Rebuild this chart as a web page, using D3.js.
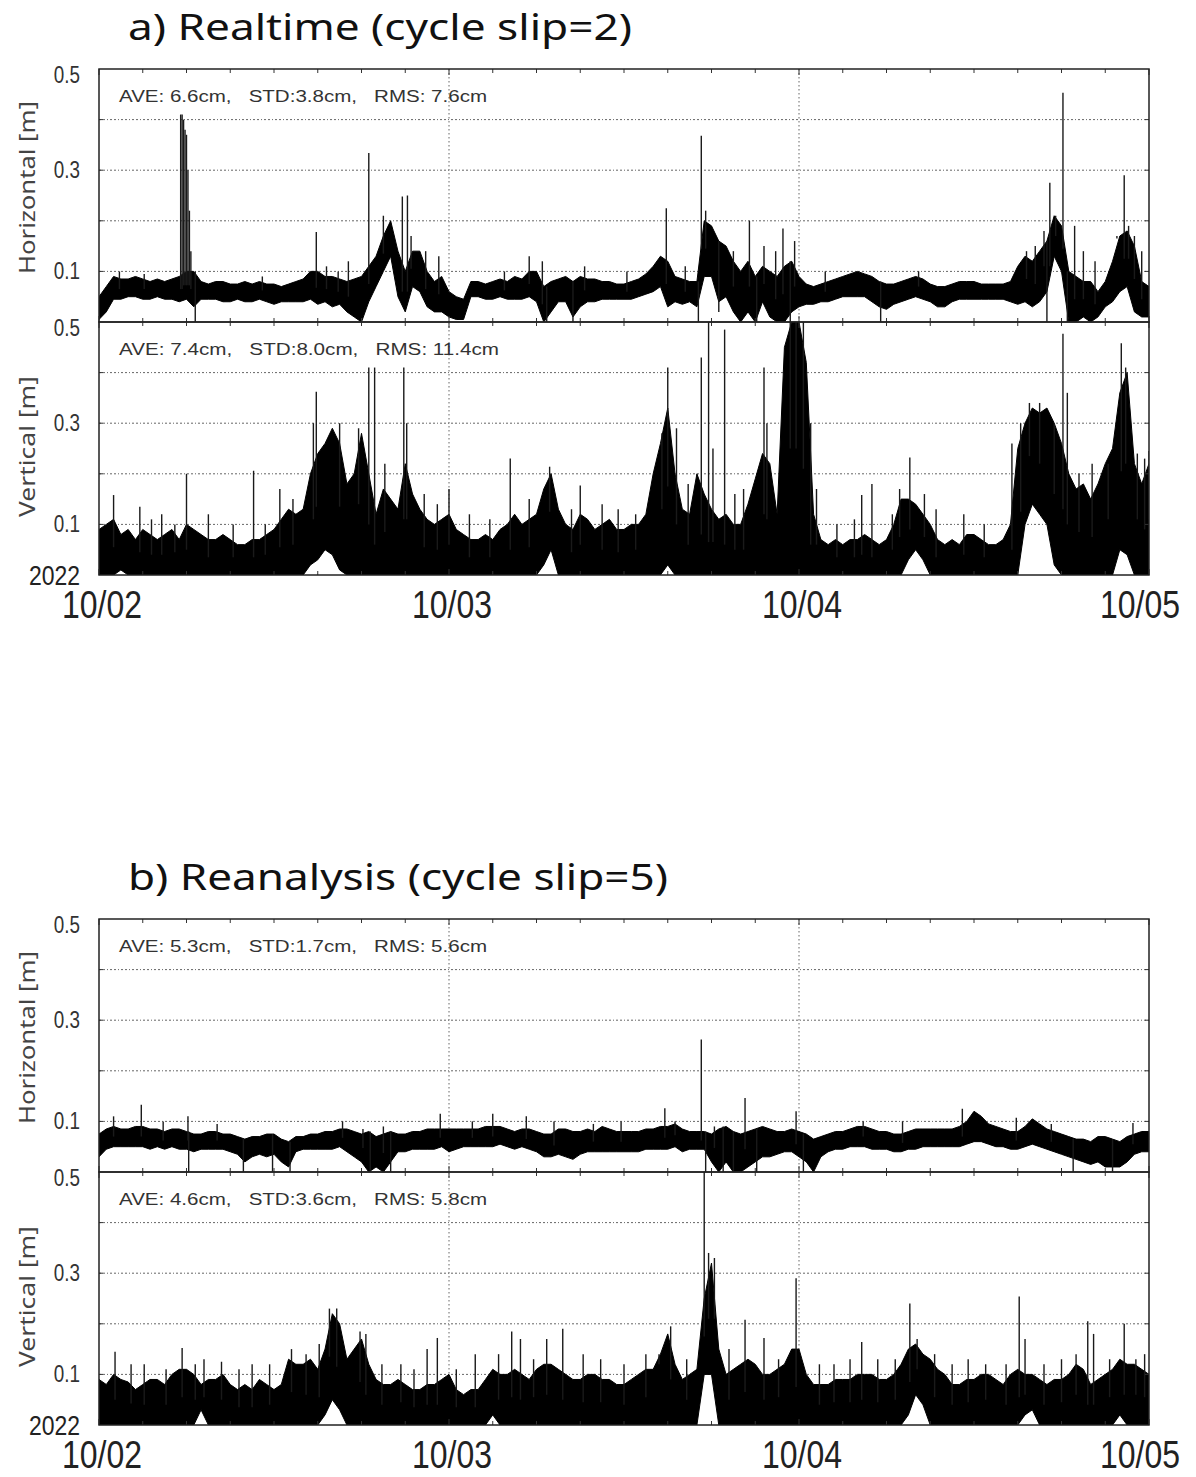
<!DOCTYPE html>
<html>
<head>
<meta charset="utf-8">
<script src="https://cdn.jsdelivr.net/npm/d3@7"></script>
<style>
  body { margin: 0; background: #fff; }
  svg { display: block; }
</style>
</head>
<body>
<div id="chart"></div>
<script>
// values, in metres, one upper / lower envelope value every 30 min from 10/02 00:00
const titles = ["a) Realtime (cycle slip=2)", "b) Reanalysis (cycle slip=5)"];
const dayLabels = ["10/02", "10/03", "10/04", "10/05"];
const yTickLabels = ["0.1", "0.3", "0.5"];
const stats = [
  "AVE: 6.6cm,   STD:3.8cm,   RMS: 7.6cm",
  "AVE: 7.4cm,   STD:8.0cm,   RMS: 11.4cm",
  "AVE: 5.3cm,   STD:1.7cm,   RMS: 5.6cm",
  "AVE: 4.6cm,   STD:3.6cm,   RMS: 5.8cm"
];

// a) realtime, horizontal
const aHorHi = [0.05,0.07,0.09,0.085,0.085,0.09,0.085,0.08,0.085,0.08,0.085,0.09,0.1,0.1,0.08,0.075,0.08,0.08,0.075,0.075,
  0.08,0.075,0.08,0.075,0.075,0.07,0.075,0.08,0.085,0.1,0.1,0.09,0.09,0.085,0.08,0.085,0.09,0.11,0.13,0.17,
  0.2,0.14,0.1,0.14,0.14,0.1,0.08,0.09,0.06,0.05,0.045,0.08,0.08,0.075,0.08,0.085,0.08,0.09,0.085,0.1,
  0.1,0.07,0.08,0.085,0.09,0.08,0.09,0.085,0.085,0.08,0.08,0.075,0.075,0.08,0.085,0.095,0.11,0.13,0.12,0.09,
  0.085,0.08,0.08,0.2,0.19,0.16,0.15,0.12,0.1,0.12,0.09,0.11,0.1,0.09,0.11,0.12,0.09,0.075,0.07,0.075,
  0.08,0.085,0.09,0.095,0.1,0.095,0.09,0.08,0.075,0.075,0.08,0.085,0.09,0.085,0.075,0.07,0.07,0.075,0.08,0.08,
  0.08,0.075,0.075,0.075,0.075,0.08,0.11,0.13,0.12,0.14,0.16,0.21,0.19,0.1,0.09,0.08,0.08,0.06,0.08,0.12,
  0.17,0.18,0.15,0.08,0.07];
const aHorLo = [0.005,0.02,0.045,0.045,0.05,0.05,0.045,0.045,0.05,0.045,0.045,0.04,0.045,0.03,0.045,0.045,0.045,0.04,0.04,0.045,
  0.04,0.04,0.045,0.04,0.035,0.04,0.04,0.04,0.04,0.045,0.035,0.04,0.03,0.035,0.02,0.01,0,0.04,0.07,0.1,
  0.13,0.05,0.02,0.07,0.06,0.03,0.02,0.02,0.01,0.005,0.005,0.05,0.05,0.045,0.045,0.05,0.045,0.045,0.045,0.05,
  0.04,0,0.02,0.04,0.04,0.01,0.03,0.04,0.04,0.045,0.045,0.045,0.045,0.045,0.05,0.055,0.06,0.07,0.03,0.04,
  0.035,0.04,0.03,0.09,0.09,0.04,0.05,0.02,0,0.02,0,0.04,0.01,0,0,0.02,0.03,0.035,0.035,0.04,
  0.04,0.045,0.05,0.05,0.05,0.05,0.04,0.03,0.025,0.035,0.04,0.045,0.05,0.045,0.04,0.03,0.03,0.04,0.045,0.045,
  0.045,0.045,0.045,0.045,0.045,0.04,0.035,0.04,0.03,0.04,0.06,0.13,0.1,0,0,0.01,0,0.01,0.03,0.04,
  0.06,0.07,0.02,0.01,0.01];
const aHorSpikes = [[5.6,0.41],[5.7,0.41],[5.8,0.40],[5.9,0.38],[6.0,0.37],[6.1,0.3],[6.2,0.22],[6.3,0.14],[6.6,0],
  [1.4,0.1],[3.1,0.095],[11.2,0.09],[14.9,0.178],[15.6,0.11],[16.4,0.1],[17.1,0.12],[18.5,0.334],[19.5,0.21],
  [20.8,0.248],[21.15,0.25],[21.4,0.17],[22.4,0.14],[23.3,0.13],[27.8,0.1],[29.5,0.13],[30.4,0.12],[30.7,0],
  [32.5,0],[33.3,0.11],[36.2,0.1],[38.9,0.225],[40.2,0.11],[41.1,0],[41.3,0.368],[41.6,0.22],[42.5,0.02],
  [43.5,0.14],[44.6,0.2],[45.1,0],[45.6,0.15],[46.4,0.14],[46.9,0.185],[47.4,0],[47.7,0.16],[49.8,0.1],
  [53.6,0],[56.2,0.1],[63.6,0.14],[64.2,0.15],[64.8,0.18],[65.0,0],[65.2,0.275],[65.6,0.21],[66.1,0.453],
  [66.4,0],[66.9,0.19],[67.5,0.14],[68.3,0.12],[69.8,0.165],[70.3,0.29],[70.6,0.19],[71.0,0.17],[71.5,0.14]];

// a) realtime, vertical
const aVerHi = [0.09,0.1,0.11,0.08,0.09,0.07,0.09,0.08,0.07,0.08,0.09,0.07,0.1,0.09,0.08,0.07,0.07,0.08,0.07,0.06,
  0.06,0.07,0.07,0.08,0.09,0.11,0.13,0.12,0.13,0.2,0.24,0.26,0.29,0.26,0.18,0.2,0.28,0.2,0.12,0.17,
  0.15,0.13,0.22,0.16,0.13,0.11,0.1,0.11,0.12,0.09,0.08,0.07,0.07,0.08,0.07,0.09,0.1,0.12,0.1,0.11,
  0.12,0.17,0.2,0.13,0.1,0.09,0.12,0.11,0.09,0.1,0.11,0.09,0.09,0.1,0.1,0.12,0.2,0.26,0.33,0.2,
  0.13,0.12,0.2,0.16,0.13,0.11,0.12,0.1,0.1,0.14,0.19,0.24,0.22,0.12,0.45,0.5,0.5,0.42,0.12,0.07,
  0.06,0.07,0.06,0.07,0.07,0.08,0.07,0.06,0.07,0.1,0.15,0.15,0.14,0.12,0.1,0.07,0.06,0.07,0.06,0.08,
  0.08,0.07,0.06,0.06,0.07,0.1,0.25,0.3,0.33,0.32,0.33,0.3,0.26,0.2,0.17,0.18,0.15,0.18,0.22,0.25,
  0.36,0.4,0.22,0.18,0.22];
const aVerLo = [0,0,0,0.01,0,0,0,0,0,0,0,0,0,0,0,0,0,0,0,0,
  0,0,0,0,0,0,0,0,0,0.02,0.03,0.05,0.04,0.01,0,0,0,0,0,0,
  0,0,0,0,0,0,0,0,0,0,0,0,0,0,0,0,0,0,0,0,
  0,0.02,0.05,0,0,0,0,0,0,0,0,0,0,0,0,0,0,0,0.02,0,
  0,0,0,0,0,0,0,0,0,0,0,0,0,0,0,0,0,0,0,0,
  0,0,0,0,0,0,0,0,0,0,0,0.03,0.05,0.03,0,0,0,0,0,0,
  0,0,0,0,0,0,0,0.1,0.14,0.12,0.1,0.02,0,0,0,0,0,0,0,0,
  0.05,0.04,0,0,0];
const aVerSpikes = [[1,0.158],[2.8,0.135],[3.6,0.11],[4.3,0.12],[5.2,0.1],[6,0.2],[7.5,0.12],[9.2,0.1],[10.6,0.206],
  [11.4,0.1],[12.4,0.17],[13.3,0.15],[14.7,0.3],[14.9,0.362],[16.5,0.3],[17.8,0.29],[18.5,0.41],[18.9,0.41],
  [19.6,0.22],[20.9,0.41],[21.1,0.3],[22.3,0.16],[23.2,0.14],[24.0,0.17],[25.4,0.12],[26.8,0.11],[28.2,0.23],
  [29.5,0.15],[30.9,0.214],[32.4,0.13],[33,0.177],[34.5,0.14],[35.6,0.13],[36.8,0.12],[38.6,0.28],[39.0,0.41],
  [39.6,0.29],[40.4,0.18],[41.3,0.43],[41.8,0.5],[42.1,0.25],[42.9,0.485],[43.6,0.16],[44.2,0.17],[45.6,0.41],
  [45.8,0.3],[47.4,0.5],[47.8,0.5],[48.3,0.5],[48.8,0.3],[49.2,0.17],[50.6,0.1],[51.8,0.11],[52.3,0.158],
  [53,0.18],[54.4,0.12],[54.9,0.17],[55.6,0.232],[56.6,0.16],[57.4,0.13],[59.3,0.12],[60.7,0.1],[62.6,0.26],
  [63.2,0.3],[63.8,0.34],[64.5,0.34],[65.5,0.3],[66.1,0.477],[66.4,0.36],[67.2,0.2],[68.1,0.22],[69.2,0.22],
  [70.1,0.458],[70.4,0.41],[71.2,0.24],[71.7,0.23],[72,0.245]];

// b) reanalysis, horizontal
const bHorHi = [0.075,0.085,0.09,0.085,0.085,0.09,0.09,0.085,0.085,0.08,0.085,0.085,0.08,0.075,0.075,0.08,0.08,0.075,0.075,0.07,
  0.065,0.07,0.07,0.075,0.075,0.065,0.06,0.07,0.07,0.075,0.075,0.08,0.08,0.085,0.085,0.08,0.075,0.08,0.07,0.075,
  0.08,0.075,0.075,0.08,0.08,0.085,0.085,0.085,0.085,0.085,0.085,0.085,0.085,0.09,0.09,0.09,0.085,0.08,0.085,0.085,
  0.08,0.075,0.075,0.085,0.085,0.08,0.08,0.085,0.08,0.09,0.085,0.08,0.08,0.08,0.08,0.085,0.085,0.09,0.09,0.095,
  0.085,0.08,0.08,0.08,0.075,0.085,0.09,0.08,0.075,0.08,0.085,0.09,0.085,0.08,0.08,0.085,0.08,0.075,0.065,0.07,
  0.075,0.08,0.08,0.085,0.09,0.09,0.085,0.08,0.08,0.075,0.075,0.08,0.085,0.085,0.085,0.085,0.085,0.085,0.09,0.1,
  0.12,0.11,0.095,0.09,0.085,0.08,0.08,0.09,0.105,0.095,0.085,0.08,0.075,0.07,0.065,0.065,0.06,0.07,0.07,0.065,
  0.06,0.07,0.075,0.08,0.08,0.08,0.075];
const bHorLo = [0.03,0.045,0.05,0.05,0.05,0.05,0.05,0.045,0.05,0.045,0.05,0.045,0.045,0.04,0.045,0.045,0.045,0.045,0.04,0.035,
  0.02,0.03,0.035,0.03,0.035,0.02,0.01,0.04,0.045,0.045,0.045,0.045,0.045,0.05,0.04,0.03,0.02,0,0.01,0,
  0.02,0.04,0.04,0.045,0.045,0.045,0.045,0.05,0.04,0.045,0.05,0.05,0.05,0.05,0.05,0.055,0.05,0.045,0.05,0.045,
  0.04,0.03,0.03,0.035,0.03,0.025,0.035,0.04,0.04,0.04,0.04,0.04,0.04,0.04,0.04,0.045,0.045,0.045,0.045,0.05,
  0.04,0.045,0.045,0.045,0.02,0,0.02,0,0,0.01,0.02,0.03,0.03,0.035,0.04,0.04,0.03,0.02,0,0.03,
  0.04,0.045,0.045,0.05,0.05,0.05,0.045,0.045,0.045,0.04,0.04,0.045,0.045,0.05,0.05,0.05,0.05,0.05,0.05,0.055,
  0.06,0.06,0.055,0.05,0.05,0.045,0.045,0.05,0.055,0.05,0.045,0.04,0.035,0.03,0.025,0.02,0.015,0.02,0.01,0.01,
  0.01,0.02,0.035,0.04,0.04,0.04,0.04];
const bHorSpikes = [[1,0.11],[2.9,0.133],[4.4,0.1],[6.1,0.11],[6.15,0],[8.1,0.095],[9.9,0],[11.9,0],[13.1,0],
  [16.7,0.1],[18.1,0.085],[18.6,0],[19.5,0.09],[20.0,0],[23.4,0.115],[25.6,0.1],[27.0,0.115],[29.3,0.11],
  [31.2,0.1],[33.9,0.095],[35.8,0.1],[38.8,0.126],[39.5,0.1],[41.3,0.262],[41.6,0],[42.2,0.09],[42.8,0],
  [43.5,0],[44.3,0.146],[45.1,0],[47.8,0.12],[48.3,0],[52.4,0.1],[55.1,0.1],[59.2,0.125],[62.9,0.107],
  [65.3,0.095],[66.8,0],[69.5,0],[70.9,0.097]];

// b) reanalysis, vertical
const bVerHi = [0.09,0.08,0.1,0.09,0.085,0.07,0.08,0.09,0.09,0.08,0.1,0.11,0.11,0.1,0.08,0.09,0.09,0.1,0.08,0.07,
  0.08,0.07,0.09,0.08,0.07,0.08,0.13,0.12,0.12,0.13,0.11,0.15,0.22,0.2,0.13,0.15,0.17,0.12,0.09,0.08,
  0.08,0.09,0.08,0.07,0.07,0.08,0.08,0.09,0.1,0.07,0.06,0.07,0.07,0.09,0.11,0.1,0.1,0.11,0.1,0.09,
  0.11,0.12,0.12,0.11,0.1,0.09,0.09,0.1,0.1,0.09,0.09,0.08,0.08,0.09,0.1,0.11,0.11,0.14,0.18,0.12,
  0.09,0.1,0.11,0.25,0.32,0.15,0.1,0.11,0.12,0.13,0.12,0.1,0.1,0.11,0.12,0.15,0.15,0.1,0.08,0.08,
  0.08,0.09,0.09,0.09,0.1,0.1,0.1,0.09,0.09,0.1,0.12,0.15,0.16,0.14,0.13,0.11,0.1,0.08,0.08,0.09,
  0.09,0.1,0.1,0.09,0.08,0.1,0.11,0.1,0.1,0.09,0.08,0.09,0.09,0.1,0.12,0.11,0.08,0.09,0.1,0.11,
  0.13,0.12,0.12,0.11,0.1];
const bVerLo = [0,0,0,0,0,0,0,0,0,0,0,0,0,0,0.03,0,0,0,0,0,
  0,0,0,0,0,0,0,0,0,0,0,0.02,0.05,0.03,0,0,0,0,0,0,
  0,0,0,0,0,0,0,0,0,0,0,0,0,0,0.02,0,0,0,0,0,
  0,0,0,0,0,0,0,0,0,0,0,0,0,0,0,0,0,0,0,0,
  0,0,0,0.1,0.1,0,0,0,0,0,0,0,0,0,0,0,0,0,0,0,
  0,0,0,0,0,0,0,0,0,0,0,0.02,0.06,0.04,0,0,0,0,0,0,
  0,0,0,0,0,0,0,0.02,0.03,0,0,0,0,0,0,0,0,0,0,0,
  0.02,0,0,0,0];
const bVerSpikes = [[1.1,0.145],[2.2,0.12],[3.1,0.12],[4.6,0.11],[5.7,0.152],[6.6,0.12],[7.2,0.13],[8.4,0.125],
  [9.6,0.11],[10.5,0.12],[11.7,0.12],[13.2,0.15],[14.2,0.14],[15.1,0.16],[15.8,0.23],[16.3,0.23],[17.9,0.185],
  [18.3,0.18],[19.4,0.12],[20.7,0.12],[21.6,0.11],[22.5,0.15],[23.2,0.172],[24.5,0.11],[25.8,0.14],[27.4,0.14],
  [28.3,0.185],[28.9,0.17],[29.8,0.13],[30.7,0.17],[31.8,0.19],[33.2,0.14],[34.4,0.13],[36.0,0.12],[37.5,0.14],
  [38.4,0.12],[39.2,0.195],[40.3,0.13],[41.5,0.5],[41.8,0.34],[42.2,0.33],[43.2,0.15],[44.3,0.208],[45.6,0.172],
  [46.6,0.13],[47.8,0.29],[49.4,0.12],[50.4,0.12],[51.5,0.13],[52.3,0.164],[53.4,0.13],[54.6,0.13],[55.6,0.24],
  [56.1,0.17],[57.3,0.14],[58.5,0.12],[59.6,0.13],[60.8,0.12],[62.2,0.12],[63.1,0.254],[63.5,0.17],[64.8,0.12],
  [66.0,0.13],[67.0,0.14],[67.8,0.205],[68.2,0.18],[69.3,0.13],[70.3,0.2],[71.1,0.13],[71.7,0.14]];

// ---- layout ----
const W = 1196, H = 1477;
const left = 99, right = 1149;
const sans = "'Liberation Sans',Arial,sans-serif";
const jp = "'Noto Sans','Noto Sans CJK JP',sans-serif";

const start = new Date(2022, 9, 2, 0, 0);
const toDate = h => new Date(start.getTime() + h * 3600e3);

const x = d3.scaleTime()
  .domain([start, toDate(72)])
  .range([left, right]);

const groups = [
  {title: titles[0], titleLen: 504, top: 69, panels: [
    {hi: aHorHi, lo: aHorLo, spikes: aHorSpikes, stat: stats[0], statLen: 368, label: "Horizontal [m]"},
    {hi: aVerHi, lo: aVerLo, spikes: aVerSpikes, stat: stats[1], statLen: 380, label: "Vertical [m]"}]},
  {title: titles[1], titleLen: 540, top: 919, panels: [
    {hi: bHorHi, lo: bHorLo, spikes: bHorSpikes, stat: stats[2], statLen: 368, label: "Horizontal [m]"},
    {hi: bVerHi, lo: bVerLo, spikes: bVerSpikes, stat: stats[3], statLen: 368, label: "Vertical [m]"}]}
];
const panelH = 253;

const svg = d3.select("#chart").append("svg")
  .attr("width", W)
  .attr("height", H);

// condensed look: ordinary sans squeezed horizontally
function narrowText(parent, tx, ty, size, anchor, txt, fill) {
  return parent.append("text")
    .attr("transform", "translate(" + tx + "," + ty + ") scale(0.82,1)")
    .attr("text-anchor", anchor)
    .attr("font-family", sans)
    .attr("font-size", size)
    .attr("fill", fill || "#222")
    .text(txt);
}

groups.forEach((g, gi) => {
  svg.append("text")
    .attr("x", 128)
    .attr("y", g.top - 29)
    .attr("font-family", jp)
    .attr("font-size", 37)
    .attr("fill", "#111")
    .attr("textLength", g.titleLen)
    .attr("lengthAdjust", "spacingAndGlyphs")
    .text(g.title);

  g.panels.forEach((p, pi) => {
    const top = g.top + pi * panelH;
    const bottom = top + panelH;
    const y = d3.scaleLinear().domain([0, 0.5]).range([bottom, top]);
    const pg = svg.append("g");

    const clipId = "clip" + gi + pi;
    pg.append("clipPath").attr("id", clipId)
      .append("rect")
      .attr("x", left).attr("y", top)
      .attr("width", right - left).attr("height", panelH);

    // dotted grid
    pg.selectAll(null)
      .data([0.1, 0.2, 0.3, 0.4])
      .enter().append("line")
      .attr("x1", left).attr("x2", right)
      .attr("y1", d => y(d)).attr("y2", d => y(d))
      .attr("stroke", "#666")
      .attr("stroke-width", 1)
      .attr("stroke-dasharray", "2,2,2,2,1,2");
    pg.selectAll(null)
      .data([24, 48])
      .enter().append("line")
      .attr("x1", d => x(toDate(d))).attr("x2", d => x(toDate(d)))
      .attr("y1", top).attr("y2", bottom)
      .attr("stroke", "#666")
      .attr("stroke-width", 1)
      .attr("stroke-dasharray", "1.5,2.5");

    // trace envelope
    const pts = p.hi.map((v, i) => ({h: i / 2, hi: v, lo: p.lo[i]}));
    const area = d3.area()
      .x(d => x(toDate(d.h)))
      .y0(d => y(d.lo))
      .y1(d => y(d.hi));
    const plot = pg.append("g").attr("clip-path", "url(#" + clipId + ")");
    plot.append("path")
      .datum(pts)
      .attr("d", area)
      .attr("fill", "#000")
      .attr("stroke", "#000")
      .attr("stroke-width", 1);

    // isolated spikes and drop-outs
    plot.selectAll(null)
      .data(p.spikes)
      .enter().append("line")
      .attr("x1", d => x(toDate(d[0])))
      .attr("x2", d => x(toDate(d[0])))
      .attr("y1", d => {
        const k = Math.round(d[0] * 2);
        return d[1] >= p.hi[k] ? y((p.lo[k] + p.hi[k]) / 2) : y(p.hi[k]);
      })
      .attr("y2", d => y(d[1]))
      .attr("stroke", "#1a1a1a")
      .attr("stroke-width", 1.4);

    // inward ticks, every 3 h and every 0.1 m
    const tickHours = d3.range(0, 73, 3);
    [top, bottom].forEach(yy => {
      pg.selectAll(null)
        .data(tickHours)
        .enter().append("line")
        .attr("x1", d => x(toDate(d))).attr("x2", d => x(toDate(d)))
        .attr("y1", yy).attr("y2", d => (yy === top ? 1 : -1) * (d % 24 === 0 ? 6 : 4) + yy)
        .attr("stroke", "#333");
    });
    [left, right].forEach(xx => {
      pg.selectAll(null)
        .data([0.1, 0.2, 0.3, 0.4])
        .enter().append("line")
        .attr("x1", xx).attr("x2", xx === left ? xx + 4 : xx - 4)
        .attr("y1", d => y(d)).attr("y2", d => y(d))
        .attr("stroke", "#333");
    });

    pg.append("rect")
      .attr("x", left).attr("y", top)
      .attr("width", right - left).attr("height", panelH)
      .attr("fill", "none")
      .attr("stroke", "#222")
      .attr("stroke-width", 1.5);

    // y tick labels
    yTickLabels.forEach(t => {
      const v = +t;
      narrowText(pg, 80, y(v) + (v === 0.5 ? 14 : 8), 23, "end", t, "#333");
    });

    // axis title
    pg.append("text")
      .attr("transform", "translate(35," + (top + panelH / 2 - (pi === 0 ? 8 : 2)) + ") rotate(-90)")
      .attr("text-anchor", "middle")
      .attr("font-family", jp)
      .attr("font-size", 21)
      .attr("fill", "#444")
      .attr("textLength", pi === 0 ? 173 : 141)
      .attr("lengthAdjust", "spacingAndGlyphs")
      .text(p.label);

    // statistics
    pg.append("text")
      .attr("x", 119)
      .attr("y", top + 33)
      .attr("font-family", sans)
      .attr("font-size", 16)
      .attr("fill", "#333")
      .attr("xml:space", "preserve")
      .style("white-space", "pre")
      .attr("textLength", p.statLen)
      .attr("lengthAdjust", "spacingAndGlyphs")
      .text(p.stat);

    if (pi === 1) {
      narrowText(pg, 80, bottom + 10, 28, "end", "2022", "#222");
      dayLabels.forEach((d, i) => {
        narrowText(pg, x(toDate(i * 24)) + (i === 3 ? -9 : 3), bottom + 43, 39, "middle", d, "#222");
      });
    }
  });
});
</script>
</body>
</html>
